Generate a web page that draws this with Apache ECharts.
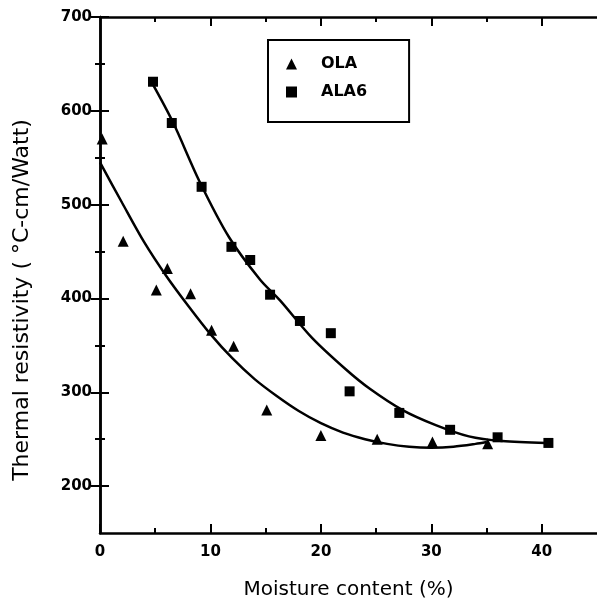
<!DOCTYPE html>
<html>
<head>
<meta charset="utf-8">
<script src="https://cdn.jsdelivr.net/npm/echarts@6/dist/echarts.min.js"></script>
<style>
  html, body { margin: 0; padding: 0; background: #fff; }
  #chart { width: 597px; height: 606px; }
</style>
</head>
<body>
<div id="chart"></div>
<script>
// measured points
const olaX = [0.2, 2.1, 5.1, 6.1, 8.2, 10.1, 12.1, 15.1, 20.0, 25.1, 30.1, 35.1];
const olaY = [570, 461, 409, 432, 405, 366, 349, 281, 254, 250, 247, 245];
const alaX = [4.8, 6.5, 9.2, 11.9, 13.6, 15.4, 18.1, 20.9, 22.6, 27.1, 31.7, 36.0, 40.6];
const alaY = [631, 587, 519, 455, 441, 404, 376, 363, 301, 278, 260, 252, 246];

// fitted curves
const olaFitX = [0, 2, 4, 6, 8, 10, 12, 14, 16, 18, 20, 22, 24, 26, 28, 30, 32, 34, 35];
const olaFitY = [545, 502, 460, 424, 392, 362, 336, 314, 296, 280, 267, 257, 250, 245, 242, 241, 242, 245, 247];
const alaFitX = [4.8, 6.6, 9, 11.7, 14.5, 16.3, 19.2, 22.3, 24.4, 27.4, 30.4, 33.4, 36.4, 40.4];
const alaFitY = [628, 588, 525, 465, 420, 398, 358, 324, 304, 281, 265, 253, 248, 246];

const xMajor = [0, 10, 20, 30, 40];
const xMinor = [5, 15, 25, 35];
const yMajor = [200, 300, 400, 500, 600, 700];
const yMinor = [250, 350, 450, 550, 650];

const FONT = 'DejaVu Sans';
const pairs = (xs, ys) => xs.map((x, i) => [x, ys[i]]);

const chart = echarts.init(document.getElementById('chart'), null, { renderer: 'canvas' });

function xAx(pos, ticks, len, labels) {
  return {
    type: 'value', position: pos, min: 0, max: 45,
    splitLine: { show: false },
    axisLine: { show: len > 6, lineStyle: { color: '#000', width: 2.5 } },
    axisTick: { inside: true, length: len, customValues: ticks, lineStyle: { color: '#000', width: 2 } },
    axisLabel: labels
      ? { customValues: ticks, color: '#000', fontFamily: FONT, fontWeight: 'bold', fontSize: 15, margin: 12 }
      : { show: false }
  };
}
function yAx(pos, ticks, len, labels) {
  return {
    type: 'value', position: pos, min: 150, max: 700,
    splitLine: { show: false },
    axisLine: { show: len > 6, lineStyle: { color: '#000', width: 2.5 } },
    axisTick: { inside: true, length: len, customValues: ticks, lineStyle: { color: '#000', width: 2 } },
    axisLabel: labels
      ? { customValues: ticks, color: '#000', fontFamily: FONT, fontWeight: 'bold', fontSize: 15, margin: 8 }
      : { show: false }
  };
}

const xBottom = xAx('bottom', xMajor, 9, true);
xBottom.name = 'Moisture content (%)';
xBottom.nameLocation = 'middle';
xBottom.nameGap = 47;
xBottom.nameTextStyle = { color: '#000', fontFamily: FONT, fontSize: 20, fontWeight: 500 };

const option = {
  backgroundColor: '#fff',
  animation: false,
  grid: { left: 100, top: 17, width: 498, height: 516 },
  legend: {
    left: 268, top: 40,
    orient: 'vertical',
    data: ['OLA', 'ALA6'],
    itemWidth: 11, itemHeight: 11, itemGap: 12,
    padding: [16, 42, 22, 18],
    borderColor: '#000', borderWidth: 2,
    textStyle: { color: '#000', fontFamily: FONT, fontWeight: 'bold', fontSize: 16, padding: [0, 0, 0, 19] }
  },
  xAxis: [
    xBottom,
    xAx('bottom', xMinor, 5, false),
    xAx('top', xMajor.slice(1), 9, false),
    xAx('top', xMinor, 5, false)
  ],
  yAxis: [
    yAx('left', yMajor, 9, true),
    yAx('left', yMinor, 5, false),
    yAx('right', yMajor, 9, false),
    yAx('right', yMinor, 5, false)
  ],
  graphic: [{
    type: 'text', x: 22, y: 300, rotation: Math.PI / 2,
    style: {
      text: 'Thermal resistivity ( °C-cm/Watt)',
      fill: '#000', font: '500 22px "DejaVu Sans"',
      align: 'center', verticalAlign: 'middle'
    }
  }],
  series: [
    {
      name: 'OLA', type: 'scatter', symbol: 'triangle', symbolSize: 11,
      itemStyle: { color: '#000', opacity: 1 }, data: pairs(olaX, olaY)
    },
    {
      name: 'ALA6', type: 'scatter', symbol: 'rect', symbolSize: 10,
      itemStyle: { color: '#000', opacity: 1 }, data: pairs(alaX, alaY)
    },
    {
      name: 'OLA fit', type: 'line', smooth: 0.3, symbol: 'none',
      lineStyle: { color: '#000', width: 2.5 }, data: pairs(olaFitX, olaFitY)
    },
    {
      name: 'ALA6 fit', type: 'line', smooth: 0.3, symbol: 'none',
      lineStyle: { color: '#000', width: 2.5 }, data: pairs(alaFitX, alaFitY)
    }
  ]
};

chart.setOption(option);
</script>
</body>
</html>
